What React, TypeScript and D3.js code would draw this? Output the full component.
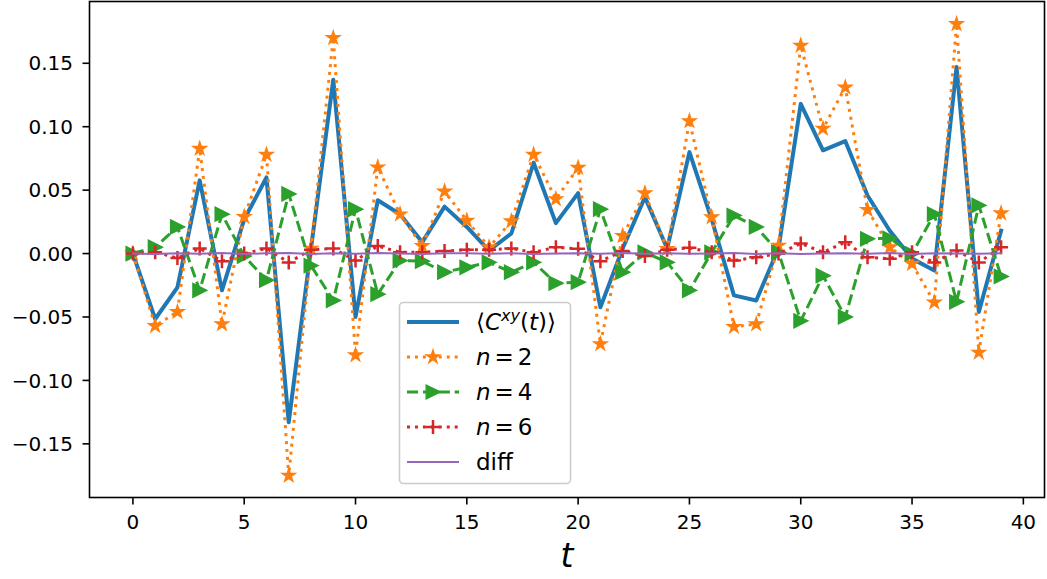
import * as d3 from 'd3';
import React, { useEffect, useRef } from 'react';

const tVals = [0, 1, 2, 3, 4, 5, 6, 7, 8, 9, 10, 11, 12, 13, 14, 15, 16, 17, 18, 19,
  20, 21, 22, 23, 24, 25, 26, 27, 28, 29, 30, 31, 32, 33, 34, 35, 36, 37, 38, 39];

const meanC = [0, -0.0516, -0.0266, 0.0577, -0.029, 0.027, 0.060, -0.133, 0.004, 0.137,
  -0.050, 0.042, 0.031, 0.009, 0.037, 0.021, 0.0024, 0.0158, 0.0716, 0.024,
  0.0476, -0.0424, 0.004, 0.0445, 0.004, 0.080, 0.027, -0.033, -0.037, 0.004,
  0.118, 0.0814, 0.0887, 0.0458, 0.018, -0.004, -0.0134, 0.147, -0.046, 0.018];

const n2 = [0, -0.057, -0.046, 0.0827, -0.0556, 0.029, 0.078, -0.175, 0.004, 0.170,
  -0.080, 0.068, 0.031, 0.006, 0.049, 0.026, 0.005, 0.0255, 0.078, 0.043,
  0.0677, -0.0713, 0.014, 0.0476, 0.0037, 0.1045, 0.0287, -0.0577, -0.0556, 0.0063,
  0.164, 0.0985, 0.131, 0.0345, 0.005, -0.008, -0.0385, 0.181, -0.078, 0.0318];

const n4 = [0, 0.005, 0.021, -0.029, 0.031, -0.002, -0.021, 0.047, -0.0095, -0.037,
  0.035, -0.032, -0.0055, -0.006, -0.0147, -0.0108, -0.0069, -0.0147, -0.0069, -0.0234,
  -0.0226, 0.035, -0.0147, 0.001, -0.0069, -0.029, 0.001, 0.030, 0.021, 0.001,
  -0.053, -0.0174, -0.050, 0.0116, 0.012, 0.0, 0.031, -0.038, 0.038, -0.018];

const n6 = [0, 0.001, -0.0035, 0.004, -0.006, 0.0, 0.004, -0.007, 0.003, 0.004,
  -0.0055, 0.006, 0.001, 0.001, 0.002, 0.003, 0.003, 0.004, 0.001, 0.005,
  0.0037, -0.006, 0.002, -0.002, 0.003, 0.0045, 0.001, -0.0055, -0.003, 0.0,
  0.008, 0.001, 0.009, -0.003, -0.004, 0.001, -0.007, 0.0024, -0.007, 0.005];

const diff = [0, -0.0004, 0.0003, -0.0002, 0.0004, -0.0003, 0.0002, 0.0005, -0.0004, 0.0003,
  -0.0002, 0.0004, 0.0001, -0.0003, 0.0002, 0.0003, -0.0001, 0.0002, -0.0003, 0.0001,
  0.0002, -0.0002, 0.0004, -0.0001, 0.0003, -0.0002, 0.0001, 0.0004, -0.0003, 0.0002,
  -0.0004, 0.0001, 0.0003, -0.0002, 0.0004, -0.0003, 0.0002, 0.0001, -0.0002, 0.0003];

const yTicks = [-0.15, -0.10, -0.05, 0.00, 0.05, 0.10, 0.15];
const xTicks = [0, 5, 10, 15, 20, 25, 30, 35, 40];

const C_BLUE = '#1f77b4', C_ORANGE = '#ff7f0e', C_GREEN = '#2ca02c', C_RED = '#d62728', C_PURPLE = '#9467bd';
const FONT = 'DejaVu Sans, sans-serif';

const App = () => {
  const ref = useRef(null);

  useEffect(() => {
    const svg = d3.select(ref.current);
    svg.selectAll('*').remove();

    const left = 89.5, right = 1044.5, top = 1.5, bottom = 497.5;

    const x = d3.scaleLinear().domain([-1.95, 40.95]).range([left, right]);
    const y = d3.scaleLinear().domain([-0.1923, 0.1987]).range([bottom, top]);

    const starPath = d3.symbol().type(d3.symbolStar).size(40)();
    const triPath = 'M6.5,0L-6.5,-6.5L-6.5,6.5Z';
    const plusPath = 'M-7,0L7,0M0,-7L0,7';

    const series = [
      { vals: meanC, color: C_BLUE, width: 4, dash: null, marker: null },
      { vals: n2, color: C_ORANGE, width: 3, dash: '3,4.95', marker: 'star' },
      { vals: n4, color: C_GREEN, width: 3, dash: '11.1,4.8', marker: 'tri' },
      { vals: n6, color: C_RED, width: 3, dash: '3,4.95', marker: 'plus' },
      { vals: diff, color: C_PURPLE, width: 2, dash: null, marker: null },
    ];

    const plot = svg.append('g');
    const line = d3.line().x((d, i) => x(tVals[i])).y(d => y(d));

    series.forEach(s => {
      plot.append('path')
        .attr('d', line(s.vals))
        .attr('fill', 'none')
        .attr('stroke', s.color)
        .attr('stroke-width', s.width)
        .attr('stroke-dasharray', s.dash)
        .attr('stroke-linejoin', 'round')
        .attr('stroke-linecap', s.dash ? 'butt' : 'square');

      if (s.marker) {
        const m = plot.append('g');
        s.vals.forEach((v, i) => {
          const p = m.append('path')
            .attr('transform', `translate(${x(tVals[i])},${y(v)})`);
          if (s.marker === 'star') {
            p.attr('d', starPath).attr('fill', s.color).attr('stroke', s.color).attr('stroke-width', 2).attr('stroke-linejoin', 'miter');
          } else if (s.marker === 'tri') {
            p.attr('d', triPath).attr('fill', s.color).attr('stroke', s.color).attr('stroke-width', 2).attr('stroke-linejoin', 'miter');
          } else {
            p.attr('d', plusPath).attr('fill', 'none').attr('stroke', s.color).attr('stroke-width', 2.5);
          }
        });
      }
    });

    // frame
    svg.append('rect')
      .attr('x', left).attr('y', top)
      .attr('width', right - left).attr('height', bottom - top)
      .attr('fill', 'none').attr('stroke', 'black').attr('stroke-width', 1.6);

    // y axis ticks
    const yAx = svg.append('g');
    yTicks.forEach(v => {
      yAx.append('line')
        .attr('x1', left - 7).attr('x2', left)
        .attr('y1', y(v)).attr('y2', y(v))
        .attr('stroke', 'black').attr('stroke-width', 1.6);
      yAx.append('text')
        .attr('x', left - 16.5).attr('y', y(v))
        .attr('dy', '0.36em')
        .attr('text-anchor', 'end')
        .attr('font-family', FONT).attr('font-size', 20)
        .text(d3.format('.2f')(v));
    });

    // x axis ticks
    const xAx = svg.append('g');
    xTicks.forEach(v => {
      xAx.append('line')
        .attr('x1', x(v)).attr('x2', x(v))
        .attr('y1', bottom).attr('y2', bottom + 7)
        .attr('stroke', 'black').attr('stroke-width', 1.6);
      xAx.append('text')
        .attr('x', x(v)).attr('y', bottom + 31)
        .attr('text-anchor', 'middle')
        .attr('font-family', FONT).attr('font-size', 20)
        .text(v);
    });

    svg.append('text')
      .attr('x', (left + right) / 2).attr('y', 567)
      .attr('text-anchor', 'middle')
      .attr('font-family', FONT).attr('font-size', 33)
      .attr('font-style', 'italic')
      .text('t');

    // legend
    const lg = svg.append('g');
    lg.append('rect')
      .attr('x', 399.5).attr('y', 302.5)
      .attr('width', 171).attr('height', 181)
      .attr('rx', 4)
      .attr('fill', 'white').attr('fill-opacity', 0.8)
      .attr('stroke', '#cccccc').attr('stroke-width', 1.6);

    const hx0 = 407, hx1 = 459, tx = 476;
    series.forEach((s, i) => {
      const ry = 322 + i * 35;
      lg.append('line')
        .attr('x1', hx0).attr('x2', hx1).attr('y1', ry).attr('y2', ry)
        .attr('stroke', s.color).attr('stroke-width', s.width)
        .attr('stroke-dasharray', s.dash);
      if (s.marker) {
        const p = lg.append('path').attr('transform', `translate(${(hx0 + hx1) / 2},${ry})`);
        if (s.marker === 'star') p.attr('d', starPath).attr('fill', s.color).attr('stroke', s.color).attr('stroke-width', 2);
        else if (s.marker === 'tri') p.attr('d', triPath).attr('fill', s.color).attr('stroke', s.color).attr('stroke-width', 2);
        else p.attr('d', plusPath).attr('fill', 'none').attr('stroke', s.color).attr('stroke-width', 2.5);
      }
      const t = lg.append('text')
        .attr('x', tx).attr('y', ry).attr('dy', '0.36em')
        .attr('font-family', FONT).attr('font-size', 23);
      if (i === 0) {
        t.append('tspan').text('⟨');
        t.append('tspan').attr('font-style', 'italic').text('C');
        t.append('tspan').attr('font-style', 'italic').attr('font-size', 16).attr('dy', '-0.55em').text('xy');
        t.append('tspan').attr('dy', '0.38em').text('(');
        t.append('tspan').attr('font-style', 'italic').text('t');
        t.append('tspan').text(')⟩');
      } else if (i < 4) {
        t.append('tspan').attr('font-style', 'italic').text('n');
        t.append('tspan').attr('dx', 4).text('=');
        t.append('tspan').attr('dx', 4).text(`${i * 2}`);
      } else {
        t.text('diff');
      }
    });
  }, []);

  return (
    <svg ref={ref} width={1047} height={579}
      style={{ position: 'absolute', left: 0, top: 0, background: 'white' }} />
  );
};

export default App;
